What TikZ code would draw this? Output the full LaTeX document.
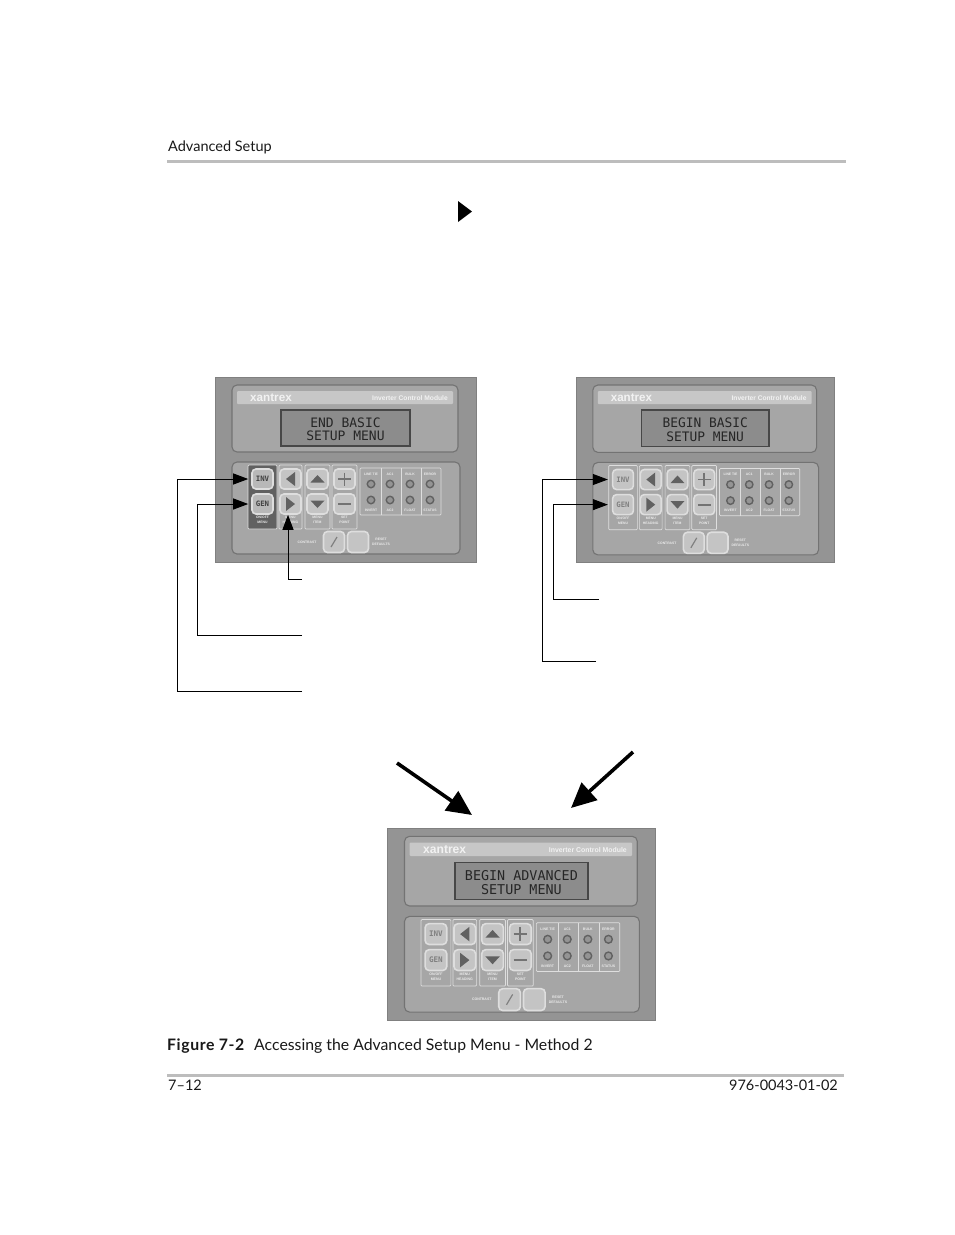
\documentclass[tikz,border=0pt]{standalone}
\usepackage{fontspec}
\setmainfont{Lato}
\newfontfamily\lcdfont{DejaVu Sans Mono}
\newfontfamily\tinyfont{Liberation Sans}
\usetikzlibrary{arrows.meta}
\definecolor{pnlouter}{gray}{0.58}
\definecolor{pnlinner}{gray}{0.65}
\definecolor{pnledge}{gray}{0.5}
\definecolor{pnlline}{gray}{0.87}
\definecolor{btnfill}{gray}{0.77}
\definecolor{rulegray}{gray}{0.74}
\colorlet{btnlabelcol}{black!50}
\tikzset{
  x=1pt,y=-1pt,
  pagetext/.style={inner sep=0pt,font=\fontsize{14.5}{16}\selectfont,text=black!90,anchor=base west},
  captext/.style={pagetext,font=\fontsize{15.8}{17}\selectfont},
  outerbox/.style={fill=pnlouter,draw=pnledge,line width=1pt},
  innerbox/.style={fill=pnlinner,draw=black!55,line width=1.1pt,rounded corners=5pt},
  stripbox/.style={fill=black!22,rounded corners=1pt},
  lcdbox/.style={fill=black!45,draw=black!72,line width=1.4pt},
  lcdtext/.style={font=\lcdfont\fontsize{13}{13}\selectfont,text=black!85,inner sep=0pt},
  btn/.style={draw=pnlline,fill=btnfill,line width=1.6pt,rounded corners=4pt,minimum width=21pt,minimum height=20pt,inner sep=0pt,transform shape},
  btnlabel/.style={font=\lcdfont\bfseries\fontsize{7.4}{7.4}\selectfont,text=btnlabelcol},
  grp/.style={draw=pnlline,line width=.7pt,rounded corners=1pt},
  led/.style={circle,draw=black!62,fill=black!42,line width=1.4pt,minimum size=7.5pt,inner sep=0pt,transform shape},
  tiny/.style={font=\tinyfont\bfseries\fontsize{3.4}{4.6}\selectfont,text=black!8,align=center,inner sep=0pt,transform shape},
  glyph/.style={fill=black!62},
  conn/.style={draw=black,line width=1pt,-{Triangle[length=15pt,width=11pt]}},
  bigarrow/.style={draw=black,line width=3.6pt,-{Triangle[length=25pt,width=23pt]}},
  rulebar/.style={fill=rulegray},
}
\newcommand{\icmpanel}[9]{%
% #1 prefix, #2 x, #3 y, #4 xscale, #5 yscale, #6 line1, #7 line2, #8 group fill, #9 button fill
\begin{scope}[shift={(#2,#3)},xscale=#4,yscale=#5]
  \path[outerbox] (0,0) rectangle (261,185);
  \path[innerbox] (17,8) rectangle (243,75);
  \path[stripbox] (22,14) rectangle (238,27);
  \node[tiny,font=\tinyfont\bfseries\fontsize{11.7}{12}\selectfont,text=black!5] (#1logo) at (56,21) {xantrex};
  \node[tiny,font=\tinyfont\bfseries\fontsize{6.7}{7}\selectfont,text=black!5] (#1title) at (195,21) {Inverter Control Module};
  \path[lcdbox] (66,33) rectangle (195,69);
  \node[lcdtext,transform shape] (#1la) at (130.5,46) {#6};
  \node[lcdtext,transform shape] (#1lb) at (130.5,59) {#7};
  \path[innerbox] (17,85) rectangle (245,177);
  \path[grp,fill=#8] (33,88) rectangle (62,152);
  \path[grp] (64,88) rectangle (87,152);
  \path[grp] (90,88) rectangle (115,152);
  \path[grp] (117,88) rectangle (142,152);
  \node[btn,fill=#9] (#1inv) at (47.5,102) {};
  \node[btn,fill=#9] (#1gen) at (47.5,127) {};
  \node[btnlabel,transform shape] at (#1inv) {INV};
  \node[btnlabel,transform shape] at (#1gen) {GEN};
  \node[btn] (#1left) at (75.5,102) {};
  \node[btn] (#1right) at (75.5,127) {};
  \node[btn] (#1up) at (102.5,102) {};
  \node[btn] (#1down) at (102.5,127) {};
  \node[btn] (#1plus) at (129.5,102) {};
  \node[btn] (#1minus) at (129.5,127) {};
  \path[glyph] (80,95) -- (80,109) -- (71,102) -- cycle;
  \path[glyph] (71,120) -- (71,134) -- (80,127) -- cycle;
  \path[glyph] (95.5,105.5) -- (109.5,105.5) -- (102.5,98) -- cycle;
  \path[glyph] (95.5,123.5) -- (109.5,123.5) -- (102.5,131) -- cycle;
  \path[draw=black!55,line width=1.8pt] (123,102) -- (136,102) (129.5,95.5) -- (129.5,108.5) (123,127) -- (136,127);
  \node[tiny] at (47.5,143) {ON/OFF\\MENU};
  \node[tiny] at (75.5,143) {MENU\\HEADING};
  \node[tiny] at (102.5,143) {MENU\\ITEM};
  \node[tiny] at (129.5,143) {SET\\POINT};
  \path[grp] (145,91) rectangle (226,138);
  \path[draw=pnlline,line width=.7pt] (166,91) -- (166,138) (186,91) -- (186,138) (206,91) -- (206,138);
  \foreach \lx/\ta/\tb/\nm in {156/LINE TIE/INVERT/a,175/AC1/AC2/b,195/BULK/FLOAT/c,215/ERROR/STATUS/d}{
    \node[tiny] at (\lx,97) {\ta};
    \node[led] (#1led\nm) at (\lx,107) {};
    \node[led] (#1lee\nm) at (\lx,123) {};
    \node[tiny] at (\lx,133) {\tb};
  }
  \node[btn,minimum width=21pt,minimum height=21pt] (#1con) at (119,165) {};
  \node[btn,minimum width=21pt,minimum height=21pt] (#1rst) at (143,165) {};
  \path[draw=black!50,line width=1.2pt] (116,170) -- (122,160);
  \node[tiny] at (92,165) {CONTRAST};
  \node[tiny] at (166,165) {RESET\\DEFAULTS};
\end{scope}}
\begin{document}
\begin{tikzpicture}
  \useasboundingbox (0,0) rectangle (954,1235);
  \fill[white] (0,0) rectangle (954,1235);
  % page furniture
  \node[pagetext] (head) at (168,151) {Advanced Setup};
  \path[rulebar] (167,160) rectangle (846,163);
  \path[fill=black] (458,201) -- (458,222) -- (472,211.5) -- cycle;
  \node[captext] (capnum) at (167,1050) {\addfontfeature{LetterSpace=3.8}\textbf{Figure 7-2}};
  \node[captext] (captxt) at (254,1050) {Accessing the Advanced Setup Menu - Method 2};
  \path[rulebar] (167,1074) rectangle (844,1077);
  \node[pagetext] (pageno) at (168,1090) {7–12};
  \node[pagetext,anchor=base east] (docno) at (838,1090) {976-0043-01-02};
  % panels
  \colorlet{btnlabelcol}{black!75}
  \icmpanel{p}{215}{377}{1}{1}{END BASIC}{SETUP MENU}{black!62}{black!28}
  \colorlet{btnlabelcol}{black!50}
  \icmpanel{q}{576}{377}{0.99}{1.005}{BEGIN BASIC}{SETUP MENU}{pnlinner}{btnfill}
  \icmpanel{r}{387}{828}{1.03}{1.04}{BEGIN ADVANCED}{SETUP MENU}{pnlinner}{btnfill}
  % connector ends
  \coordinate (e1) at (302,691); \coordinate (b1) at (177,691);
  \coordinate (e2) at (302,635); \coordinate (b2) at (197,635);
  \coordinate (e3) at (302,579); \coordinate (b3) at (288,579);
  \coordinate (e4) at (596,661); \coordinate (b4) at (542,661);
  \coordinate (e5) at (599,599); \coordinate (b5) at (553,599);
  \draw[conn,shorten >=3pt] (e1) -- (b1) -- (b1 |- pinv.west) -- (pinv.west);
  \draw[conn,shorten >=3pt] (e2) -- (b2) -- (b2 |- pgen.west) -- (pgen.west);
  \draw[conn] (e3) -- (b3) -- (b3 |- pright.south);
  \draw[conn,shorten >=4pt] (e4) -- (b4) -- (b4 |- qinv.west) -- (qinv.west);
  \draw[conn,shorten >=4pt] (e5) -- (b5) -- (b5 |- qgen.west) -- (qgen.west);
  % converging arrows
  \coordinate (a1) at (397,763); \coordinate (a2) at (472,815);
  \coordinate (a3) at (633,752); \coordinate (a4) at (571,808);
  \draw[bigarrow] (a1) -- (a2);
  \draw[bigarrow] (a3) -- (a4);
\end{tikzpicture}
\end{document}
